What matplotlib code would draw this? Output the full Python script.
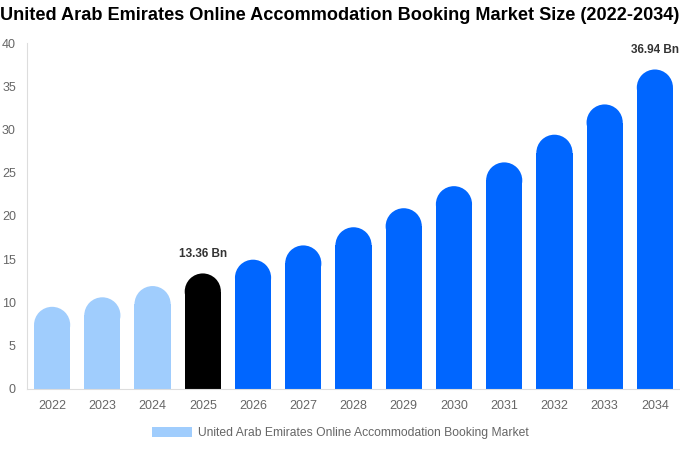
import numpy as np
import matplotlib.pyplot as plt
from matplotlib.patches import Rectangle, Ellipse, Patch

plt.rcParams['font.family'] = ['Liberation Sans', 'DejaVu Sans']

# data
years = ['2022', '2023', '2024', '2025', '2026', '2027', '2028',
         '2029', '2030', '2031', '2032', '2033', '2034']
values = [9.5, 10.6, 11.9, 13.36, 14.95, 16.6, 18.7,
          20.9, 23.45, 26.2, 29.4, 32.9, 36.94]
colors = ['#a0cdfd'] * 3 + ['#000000'] + ['#0066ff'] * 9
labels = {3: '13.36 Bn', 12: '36.94 Bn'}
legend_name = 'United Arab Emirates Online Accommodation Booking Market'

fig = plt.figure(figsize=(6.8, 4.5), dpi=100)
ax = fig.add_axes([0.0397, 0.1356, 0.9603, 0.7688])
ax.set_xlim(-0.5, 12.5)
ax.set_ylim(0, 40)

w = 0.72
# half bar width in data-y units so the cap looks round on screen
px_per_x = ax.get_window_extent().width / 13
px_per_y = ax.get_window_extent().height / 40
ry = (w / 2) * px_per_x / px_per_y

for i, v in enumerate(values):
    ax.add_patch(Rectangle((i - w / 2, 0), w, v - ry, facecolor=colors[i],
                           edgecolor='none'))
    ax.add_patch(Ellipse((i, v - ry), w, 2 * ry, facecolor=colors[i],
                         edgecolor='none'))
    if i in labels:
        ax.text(i, v + 1.6, labels[i], ha='center', va='bottom',
                fontsize=8.5, fontweight='bold', color='#333333')

ax.set_xticks(range(len(years)))
ax.set_xticklabels(years)
ax.set_yticks(range(0, 41, 5))
ax.tick_params(length=0, labelsize=9, labelcolor='#666666')
ax.tick_params(axis='x', pad=8)
ax.tick_params(axis='y', pad=8)
for s in ['top', 'right']:
    ax.spines[s].set_visible(False)
for s in ['left', 'bottom']:
    ax.spines[s].set_color('#dddddd')

fig.suptitle('United Arab Emirates Online Accommodation Booking Market Size (2022-2034)',
             x=0.5, y=0.985, fontsize=13.05, fontweight='bold', color='#000000')

ax.legend(handles=[Patch(facecolor='#a0cdfd', label=legend_name)],
          loc='center', bbox_to_anchor=(0.5, 0.038), bbox_transform=fig.transFigure,
          frameon=False, fontsize=8.7, labelcolor='#666666',
          handlelength=3.3, handleheight=1.0, handletextpad=0.5)

fig.savefig('out.png', dpi=100)
